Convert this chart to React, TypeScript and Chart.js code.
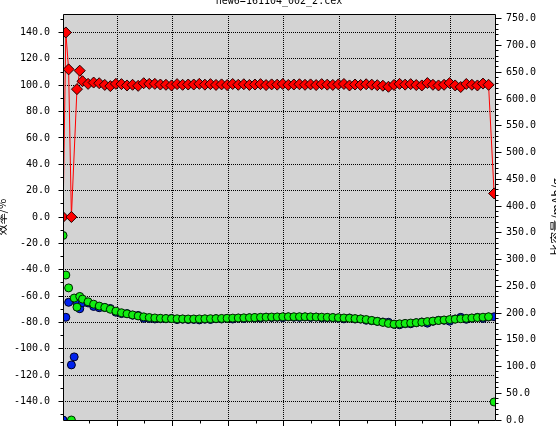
import React, { useEffect, useRef } from 'react';
import { Chart, registerables } from 'chart.js';

Chart.register(...registerables);

const CHART_TITLE = 'new6=161104_002_2.cex';
const LEFT_TITLE = '效率/%';
const RIGHT_TITLE = '比容量/mAh/g';

// cycle positions (x axis)
const cycles = [
  0.3, 0.8, 1.3, 1.8, 2.3, 2.8, 3.3,
  3.8, 4.8, 5.8, 6.8, 7.8, 8.8, 9.8, 10.8, 11.8, 12.8,
  13.8, 14.8, 15.8, 16.8, 17.8, 18.8, 19.8, 20.8, 21.8, 22.8,
  23.8, 24.8, 25.8, 26.8, 27.8, 28.8, 29.8, 30.8, 31.8, 32.8,
  33.8, 34.8, 35.8, 36.8, 37.8, 38.8, 39.8, 40.8, 41.8, 42.8,
  43.8, 44.8, 45.8, 46.8, 47.8, 48.8, 49.8, 50.8, 51.8, 52.8,
  53.8, 54.8, 55.8, 56.8, 57.8, 58.8, 59.8, 60.8, 61.8, 62.8,
  63.8, 64.8, 65.8, 66.8, 67.8, 68.8, 69.8, 70.8, 71.8, 72.8,
  73.8, 74.8, 75.8, 76.8,
  77.8,
];

// efficiency, % (red, left axis)
const efficiency = [
  0, 140, 112, 0, null, 97, 111,
  103, 101, 102, 101.5, 100.2, 99.3, 101, 100.8, 99.8, 100.3,
  99.5, 101.5, 101, 101, 100.5, 100.3, 99.8, 100.8, 100.3, 100.5,
  100.5, 101, 100.4, 100.8, 100.2, 100.6, 100.1, 100.9, 100.3, 100.7,
  100.2, 100.5, 100.8, 100.1, 100.6, 100.4, 100.9, 100.2, 100.5, 100.7,
  100.3, 100.6, 100.1, 100.8, 100.4, 100.2, 100.6, 100.9, 99.8, 100.5,
  100.2, 100.7, 100.4, 100.0, 99.6, 98.8, 100.2, 101.0, 100.4, 100.8,
  100.1, 99.8, 101.6, 100.3, 99.8, 100.3, 101.6, 99.8, 98.6, 100.9,
  100.3, 99.8, 101.2, 100.3,
  17.9,
];

// specific capacity, mAh/g (green, right axis)
const greenCapacity = [
  345, 271, 247, 0, 228, 211, 231,
  226, 221, 216.5, 213, 210.5, 207, 203.5, 200.5, 198.5, 196.5,
  194.5, 192.8, 191.6, 190.8, 190.2, 189.8, 189.5, 189.2, 189, 188.8,
  188.9, 189, 189.2, 189.4, 189.6, 189.9, 190.2, 190.5, 190.8, 191,
  191.3, 191.6, 192, 192.3, 192.5, 192.7, 193, 193, 193, 193.1,
  193, 192.8, 192.5, 192.3, 192, 191.6, 191.3, 190.8, 190.3, 189.6,
  189, 187.8, 186.2, 184.4, 182.5, 180.5, 179.2, 179.8, 180.6, 181.3,
  182, 182.8, 184, 185, 186, 187, 187.8, 188.5, 189.2, 190,
  190.8, 191.5, 192.2, 193,
  33.7,
];

// specific capacity, mAh/g (blue, right axis)
const blueCapacity = [
  0, 192, 220, 103, 118, 217, 208,
  219.4, 218.8, 212.3, 209.9, 210.1, 208.5, 201.5, 198.9, 198.9, 195.9,
  195.5, 190.0, 189.7, 188.9, 189.3, 189.2, 189.9, 187.7, 188.4, 187.9,
  188.0, 187.1, 188.4, 187.9, 189.2, 188.8, 190.0, 188.8, 190.2, 189.7,
  190.9, 190.6, 190.5, 192.1, 191.4, 191.9, 191.3, 192.6, 192.0, 191.8,
  192.4, 191.7, 192.3, 190.8, 191.2, 191.2, 190.2, 189.1, 190.7, 188.7,
  188.6, 186.5, 185.5, 184.4, 183.2, 182.7, 178.8, 178.0, 179.9, 179.9,
  181.8, 183.2, 181.1, 184.4, 186.4, 186.4, 184.8, 188.9, 191.9, 188.3,
  190.2, 191.9, 189.9, 192.4,
  193,
];

// axis ranges and labelled ticks
const X_MIN = 0.29;
const X_MAX = 77.96;
const X_LABEL_TICKS = [10, 20, 30, 40, 50, 60, 70];
const LEFT_MIN = -154;
const LEFT_MAX = 154;
const LEFT_LABEL_TICKS = [-140, -120, -100, -80, -60, -40, -20, 0, 20, 40, 60, 80, 100, 120, 140];
const RIGHT_MIN = 0;
const RIGHT_MAX = 759;
const RIGHT_LABEL_TICKS = [0, 50, 100, 150, 200, 250, 300, 350, 400, 450, 500, 550, 600, 650, 700, 750];

const X_MINOR_STEP = 5;
const LEFT_MINOR_STEP = 10;
const RIGHT_MINOR_STEP = 10;

const PLOT_BG = '#d3d3d3';
const TICK_FONT = { family: '"DejaVu Sans Mono", monospace', size: 10 };

function align(p: number) {
  return Math.round(p - 0.5) + 0.5;
}

const decor = {
  id: 'decor',
  beforeDraw(chart: any) {
    const { ctx, chartArea: a } = chart;
    ctx.save();
    ctx.fillStyle = PLOT_BG;
    ctx.fillRect(a.left, a.top, a.right - a.left, a.bottom - a.top);
    ctx.restore();
  },
  afterDatasetsDraw(chart: any) {
    const { ctx, chartArea: a } = chart;
    const xs = chart.scales.x;
    const yl = chart.scales.y;
    const yr = chart.scales.y1;
    ctx.save();
    ctx.strokeStyle = '#000000';
    ctx.lineWidth = 1;
    ctx.setLineDash([]);
    ctx.beginPath();
    // frame
    ctx.rect(a.left + 0.5, a.top + 0.5, a.right - a.left, a.bottom - a.top);
    // x ticks
    for (let v = X_MINOR_STEP; v <= X_MAX; v += X_MINOR_STEP) {
      const px = align(xs.getPixelForValue(v));
      const len = v % 10 === 0 ? 6 : 3;
      ctx.moveTo(px, a.bottom + 0.5);
      ctx.lineTo(px, a.bottom + 0.5 + len);
    }
    // left ticks
    for (let v = -150; v <= 150; v += LEFT_MINOR_STEP) {
      const py = align(yl.getPixelForValue(v));
      const len = Math.abs(v) % 20 === 0 ? 5 : 3;
      ctx.moveTo(a.left + 0.5, py);
      ctx.lineTo(a.left + 0.5 - len, py);
    }
    // right ticks
    for (let v = 0; v <= 750; v += RIGHT_MINOR_STEP) {
      const py = align(yr.getPixelForValue(v));
      const len = v % 50 === 0 ? 6 : 3;
      ctx.moveTo(a.right + 0.5, py);
      ctx.lineTo(a.right + 0.5 + len, py);
    }
    ctx.stroke();
    ctx.restore();
  },
  afterDraw(chart: any) {
    const { ctx, chartArea: a } = chart;
    const cy = (a.top + a.bottom) / 2;
    ctx.save();
    ctx.fillStyle = '#000000';
    ctx.font = '10px "DejaVu Sans Mono", monospace';
    ctx.textAlign = 'center';
    ctx.textBaseline = 'alphabetic';
    ctx.fillText(CHART_TITLE, (a.left + a.right) / 2, a.top - 10);

    ctx.textBaseline = 'middle';
    ctx.save();
    ctx.translate(2, cy);
    ctx.rotate(-Math.PI / 2);
    ctx.font = '11px "Noto Sans CJK SC", sans-serif';
    ctx.fillText(LEFT_TITLE, 0, 0);
    ctx.restore();

    ctx.save();
    ctx.translate(556, cy);
    ctx.rotate(-Math.PI / 2);
    ctx.font = '12px "Noto Sans CJK SC", sans-serif';
    ctx.fillText(RIGHT_TITLE, 0, 0);
    ctx.restore();
    ctx.restore();
  },
};

export default function App() {
  const ref = useRef<HTMLCanvasElement>(null);

  useEffect(() => {
    const canvas = ref.current;
    if (!canvas) return;
    const toPts = (ys: (number | null)[]) => cycles.map((x, i) => ({ x, y: ys[i] }));

    const chart = new Chart(canvas, {
      type: 'line',
      data: {
        datasets: [
          {
            label: '效率',
            data: toPts(efficiency) as any,
            yAxisID: 'y',
            borderColor: '#ff0000',
            backgroundColor: '#ff0000',
            borderWidth: 1,
            tension: 0,
            spanGaps: true,
            pointStyle: 'rectRot',
            pointRadius: 5.5,
            pointBackgroundColor: '#ff0000',
            pointBorderColor: '#200000',
            pointBorderWidth: 1,
            clip: 0,
          },
          {
            label: '比容量1',
            data: toPts(greenCapacity) as any,
            yAxisID: 'y1',
            showLine: false,
            pointStyle: 'circle',
            pointRadius: 4,
            pointBackgroundColor: '#11ee11',
            pointBorderColor: '#002200',
            pointBorderWidth: 1,
            clip: 0,
          },
          {
            label: '比容量2',
            data: toPts(blueCapacity) as any,
            yAxisID: 'y1',
            showLine: false,
            pointStyle: 'circle',
            pointRadius: 4,
            pointBackgroundColor: '#0022ee',
            pointBorderColor: '#000022',
            pointBorderWidth: 1,
            clip: 0,
          },
        ],
      },
      options: {
        animation: false,
        responsive: false,
        events: [],
        layout: { padding: { top: 34, left: 0, right: 0, bottom: 0 } },
        plugins: {
          legend: { display: false },
          title: { display: false },
          tooltip: { enabled: false },
        },
        scales: {
          x: {
            type: 'linear',
            min: X_MIN,
            max: X_MAX,
            afterBuildTicks: (s: any) => {
              s.ticks = X_LABEL_TICKS.map((v) => ({ value: v }));
            },
            afterFit: (s: any) => {
              s.height = 30;
            },
            grid: { color: '#000000', lineWidth: 1, drawTicks: false },
            border: { display: false, dash: [1, 1] },
            ticks: {
              padding: 8,
              autoSkip: false,
              maxRotation: 0,
              color: '#000000',
              font: TICK_FONT,
              callback: (v: any) => String(v),
            },
          },
          y: {
            type: 'linear',
            position: 'left',
            min: LEFT_MIN,
            max: LEFT_MAX,
            afterBuildTicks: (s: any) => {
              s.ticks = LEFT_LABEL_TICKS.map((v) => ({ value: v }));
            },
            afterFit: (s: any) => {
              s.width = 63;
            },
            grid: { color: '#000000', lineWidth: 1, drawTicks: false },
            border: { display: false, dash: [1, 1] },
            ticks: {
              padding: 13,
              autoSkip: false,
              color: '#000000',
              font: TICK_FONT,
              callback: (v: any) => Number(v).toFixed(1),
            },
          },
          y1: {
            type: 'linear',
            position: 'right',
            min: RIGHT_MIN,
            max: RIGHT_MAX,
            afterBuildTicks: (s: any) => {
              s.ticks = RIGHT_LABEL_TICKS.map((v) => ({ value: v }));
            },
            afterFit: (s: any) => {
              s.width = 61;
            },
            grid: { drawOnChartArea: false, drawTicks: false },
            border: { display: false },
            ticks: {
              padding: 11,
              autoSkip: false,
              color: '#000000',
              font: TICK_FONT,
              callback: (v: any) => Number(v).toFixed(1),
            },
          },
        },
      } as any,
      plugins: [decor],
    });

    return () => chart.destroy();
  }, []);

  return (
    <div style={{ position: 'fixed', left: 0, top: -20 }}>
      <canvas ref={ref} width={556} height={470} style={{ display: 'block' }} />
    </div>
  );
}
